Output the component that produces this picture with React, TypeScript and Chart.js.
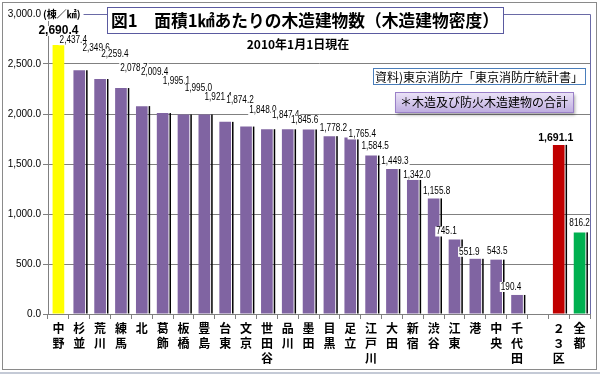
import React, { useEffect, useRef } from 'react';
import { Chart, registerables } from 'chart.js';
Chart.register(...registerables);

const wards = ['中野', '杉並', '荒川', '練馬', '北', '葛飾', '板橋', '豊島', '台東', '文京', '世田谷', '品川', '墨田', '目黒', '足立', '江戸川', '大田', '新宿', '渋谷', '江東', '港', '中央', '千代田', '', '２３区', '全都'];
const densities = [2690.4, 2437.4, 2349.6, 2259.4, 2078.7, 2009.4, 1995.1, 1995.0, 1921.4, 1874.2, 1848.0, 1847.4, 1845.6, 1778.2, 1765.4, 1584.5, 1449.3, 1342.0, 1155.8, 745.1, 551.9, 543.5, 190.4, null, 1691.1, 816.2];
const yMin = 0;
const yMax = 3000;
const yStep = 500;

const titleText = '図1　面積1㎢あたりの木造建物数（木造建物密度）';
const dateText = '2010年1月1日現在';
const unitText = '(棟／㎢)';
const sourceText = '資料)東京消防庁「東京消防庁統計書」';
const noteText = '＊木造及び防火木造建物の合計';

// label placement tweaks (pixels, relative to bar top centre)
const labelDX = [0, -6, -4, -6, -8, -8, -7, -6, -7, -6, -4, -2, -4, 4, 12, 4, 3, 4, 3, -8, -6, 1, -6, 0, -3, 0];
const labelDY = [-14, -30, -31, -34, -38, -41, -33, -26, -25, -26, -19, -14, -9, -8, -3, -9, -8, -5, -7, -8, -7, -8, -8, 0, -7, -9];
const boldLabels = [0, 24];

const PURPLE = '#8064A2';
const barColors = wards.map((w, i) => (i === 0 ? '#FFFF00' : i === 24 ? '#C00000' : i === 25 ? '#00B050' : PURPLE));

const JP = '"Noto Sans CJK JP", sans-serif';
const NUM = '"Liberation Sans", Arial, sans-serif';

function fmt(v: number) {
  return v.toLocaleString('en-US', { minimumFractionDigits: 1, maximumFractionDigits: 1 });
}

const decorPlugin = {
  id: 'decor',
  beforeDraw(chart: any) {
    const ctx = chart.ctx;
    ctx.save();
    ctx.fillStyle = '#ffffff';
    ctx.fillRect(0, 0, chart.width, chart.height);
    ctx.restore();
  },
  afterDatasetsDraw(chart: any) {
    const ctx = chart.ctx;
    const meta = chart.getDatasetMeta(0);
    ctx.save();
    // dark edge line at right of each bar
    meta.data.forEach((bar: any, i: number) => {
      if (i === 0 || densities[i] == null) return;
      const p = bar.getProps(['x', 'y', 'base', 'width'], true);
      ctx.fillStyle = '#000000';
      ctx.fillRect(p.x + p.width / 2 + 1, p.y, 1.5, p.base - p.y);
    });
    // data labels
    meta.data.forEach((bar: any, i: number) => {
      const v = densities[i];
      if (v == null) return;
      const p = bar.getProps(['x', 'y'], true);
      const bold = boldLabels.includes(i);
      const txt = fmt(v);
      const size = i === 0 ? 12 : bold ? 10.5 : 10;
      ctx.font = `${bold ? 'bold ' : ''}${size}px ${NUM}`;
      const sx = bold ? 1 : 0.82;
      const w = ctx.measureText(txt).width * sx;
      const cx = p.x + labelDX[i];
      const cy = p.y + labelDY[i];
      ctx.fillStyle = '#ffffff';
      ctx.fillRect(cx - w / 2 - 1, cy - 5, w + 2, 10);
      ctx.fillStyle = '#000000';
      ctx.textAlign = 'center';
      ctx.textBaseline = 'middle';
      ctx.save();
      ctx.translate(cx, cy);
      ctx.scale(sx, 1);
      ctx.fillText(txt, 0, 0);
      ctx.restore();
    });
    ctx.restore();
  },
  afterDraw(chart: any) {
    const ctx = chart.ctx;
    const a = chart.chartArea;
    ctx.save();
    // outer frame
    ctx.strokeStyle = '#8a8a8a';
    ctx.lineWidth = 1;
    ctx.strokeRect(2.5, 2.5, 594, 367);
    ctx.strokeStyle = '#c4cad6';
    ctx.lineWidth = 2;
    ctx.beginPath();
    ctx.moveTo(0, 373);
    ctx.lineTo(600, 373);
    ctx.stroke();
    // plot area top / right border
    ctx.strokeStyle = '#6a6aa6';
    ctx.lineWidth = 1;
    ctx.beginPath();
    ctx.moveTo(a.left, Math.round(a.top) + 0.5);
    ctx.lineTo(Math.round(a.right) + 0.5, Math.round(a.top) + 0.5);
    ctx.lineTo(Math.round(a.right) + 0.5, Math.round(a.bottom));
    ctx.stroke();
    // unit text
    ctx.font = `bold 10px ${JP}`;
    ctx.textAlign = 'left';
    ctx.textBaseline = 'middle';
    const uw = ctx.measureText(unitText).width;
    ctx.fillStyle = '#ffffff';
    ctx.fillRect(42, 8, uw + 4, 13);
    ctx.fillStyle = '#000000';
    ctx.fillText(unitText, 43, 14.5);
    // title box
    ctx.fillStyle = '#ffffff';
    ctx.fillRect(107, 7, 396, 26);
    ctx.strokeStyle = '#5a5aa0';
    ctx.strokeRect(107.5, 7.5, 396, 26);
    ctx.fillStyle = '#000000';
    ctx.font = `bold 17px ${JP}`;
    ctx.textAlign = 'center';
    ctx.fillText(titleText, 305, 21, 388);
    // date
    ctx.font = `bold 12px ${JP}`;
    ctx.fillText(dateText, 298, 44);
    // source box
    ctx.fillStyle = '#ffffff';
    ctx.fillRect(373, 68, 212, 16);
    ctx.strokeStyle = '#4a7ebb';
    ctx.strokeRect(373.5, 68.5, 212, 16);
    ctx.fillStyle = '#000000';
    ctx.font = `12px ${JP}`;
    ctx.textAlign = 'left';
    ctx.fillText(sourceText, 375, 77, 208);
    // note box
    ctx.save();
    ctx.shadowColor = 'rgba(0,0,0,0.35)';
    ctx.shadowOffsetX = 2;
    ctx.shadowOffsetY = 3;
    ctx.shadowBlur = 3;
    const g = ctx.createLinearGradient(0, 92, 0, 112);
    g.addColorStop(0, '#ece4f8');
    g.addColorStop(1, '#bfaee0');
    ctx.fillStyle = g;
    ctx.fillRect(395, 92, 178, 20);
    ctx.restore();
    ctx.strokeStyle = '#9a80c8';
    ctx.strokeRect(395.5, 92.5, 178, 20);
    ctx.fillStyle = '#000000';
    ctx.font = `12px ${JP}`;
    ctx.textAlign = 'center';
    ctx.fillText(noteText, 484, 102.5);
    ctx.restore();
  },
};

export default function App() {
  const ref = useRef<HTMLCanvasElement>(null);
  useEffect(() => {
    document.body.style.margin = '0';
    const chart = new Chart(ref.current as HTMLCanvasElement, {
      type: 'bar',
      data: {
        labels: wards.map((w) => (w ? Array.from(w) : '')),
        datasets: [
          {
            data: densities as any,
            backgroundColor: barColors,
            borderWidth: 0,
            barPercentage: 0.56,
            categoryPercentage: 1,
          },
        ],
      },
      options: {
        responsive: false,
        animation: false,
        devicePixelRatio: 1,
        layout: { padding: { top: 14, right: 10, left: 0, bottom: 0 } },
        plugins: { legend: { display: false }, tooltip: { enabled: false }, title: { display: false } },
        scales: {
          x: {
            grid: { drawOnChartArea: false, drawTicks: true, tickLength: 5, color: '#808080', offset: true },
            border: { display: true, color: '#808080' },
            ticks: {
              font: { family: JP, size: 12, weight: 'bold', lineHeight: 1.25 },
              color: '#000000',
              padding: 2,
              maxRotation: 0,
              autoSkip: false,
            },
            afterFit: (s: any) => {
              s.height = 61;
            },
          },
          y: {
            min: yMin,
            max: yMax,
            ticks: {
              stepSize: yStep,
              callback: (v: any) => fmt(Number(v)),
              font: { family: NUM, size: 10 },
              color: '#000000',
              padding: 2,
            },
            grid: { color: '#808080', tickLength: 5 },
            border: { display: true, color: '#808080' },
            afterFit: (s: any) => {
              s.width = 48;
            },
          },
        },
      },
      plugins: [decorPlugin],
    } as any);
    return () => chart.destroy();
  }, []);
  return (
    <div style={{ position: 'absolute', left: 0, top: 0, width: 600, height: 375 }}>
      <canvas ref={ref} width={600} height={375} style={{ display: 'block' }} />
    </div>
  );
}
